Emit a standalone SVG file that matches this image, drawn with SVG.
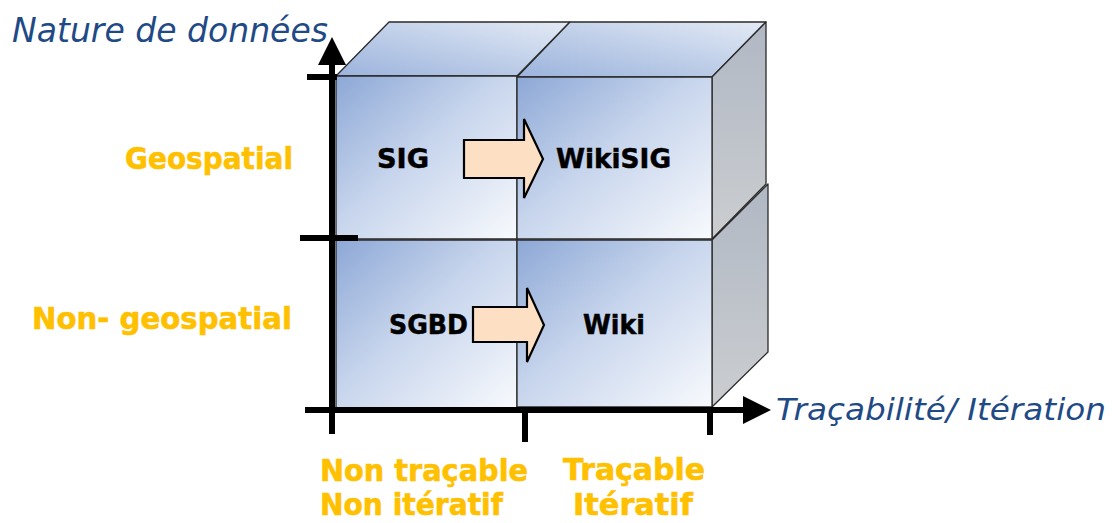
<svg xmlns="http://www.w3.org/2000/svg" width="1115" height="523" viewBox="0 0 1115 523">
  <style>
    .edge { stroke: #2a2a2a; stroke-width: 1.3; stroke-linejoin: round; }
    .front { fill: url(#gFront); }
    .top { fill: url(#gTop); }
    .side { fill: url(#gSide); }
    .cell { font-family: "DejaVu Sans", Verdana, sans-serif; font-weight: bold; font-size: 27px; fill: #000; stroke: #000; stroke-width: 0.5; }
    .cat { font-family: "DejaVu Sans", Verdana, sans-serif; font-weight: bold; font-size: 31px; fill: #FFC000; stroke: #FFC000; stroke-width: 0.6; }
    .axis-title { font-family: "DejaVu Sans", Verdana, sans-serif; font-style: italic; font-size: 34px; fill: #1F4A86; }
    .axis { stroke: #000; stroke-width: 6; fill: none; }
    .block { fill: #FDDFC3; stroke: #000; stroke-width: 2.2; stroke-linejoin: miter; }
  </style>
  <defs>
    <linearGradient id="gFront" x1="0" y1="0" x2="1" y2="1">
      <stop offset="0" stop-color="#8DA8D6"/>
      <stop offset="0.45" stop-color="#C6D4EC"/>
      <stop offset="1" stop-color="#F8FAFD"/>
    </linearGradient>
    <linearGradient id="gTop" x1="0" y1="1" x2="1" y2="0">
      <stop offset="0" stop-color="#9BB3DC"/>
      <stop offset="1" stop-color="#E3EAF5"/>
    </linearGradient>
    <linearGradient id="gSide" x1="0" y1="0" x2="0" y2="1">
      <stop offset="0" stop-color="#B0B8C4"/>
      <stop offset="1" stop-color="#CBCDD0"/>
    </linearGradient>
  </defs>

  <!-- bottom row of cubes -->
  <g id="cell-sgbd">
    <rect class="front edge" x="336" y="240" width="181" height="168"/>
    <text class="cell" x="389" y="334" textLength="79" lengthAdjust="spacingAndGlyphs">SGBD</text>
  </g>
  <g id="cell-wiki">
    <polygon class="side edge" points="712,240 768,184 768,352 712,407"/>
    <rect class="front edge" x="517" y="240" width="195" height="167"/>
    <text class="cell" x="583" y="334" textLength="62" lengthAdjust="spacingAndGlyphs">Wiki</text>
  </g>

  <!-- top row of cubes -->
  <g id="cell-sig">
    <polygon class="top edge" points="336,76 389,22 570,22 517,76"/>
    <rect class="front edge" x="336" y="76" width="181" height="163"/>
    <text class="cell" x="377" y="168" textLength="52" lengthAdjust="spacingAndGlyphs">SIG</text>
  </g>
  <g id="cell-wikisig">
    <polygon class="top edge" points="517,77 570,22 766,22 712,77"/>
    <polygon class="side edge" points="712,77 766,22 766,184 712,239"/>
    <rect class="front edge" x="517" y="77" width="195" height="162"/>
    <text class="cell" x="556" y="168" textLength="115" lengthAdjust="spacingAndGlyphs">WikiSIG</text>
  </g>

  <!-- transitions between cells -->
  <g id="connectors">
    <polygon class="block" points="464,140 524,140 524,119 543,159 524,198 524,178 464,178"/>
    <polygon class="block" points="473,307 527,307 527,288 544,325 527,362 527,342 473,342"/>
  </g>

  <!-- axes with ticks -->
  <g id="axes">
    <line class="axis" x1="332" y1="62" x2="332" y2="434"/>
    <polygon points="318,65 332,37 346,65" fill="#000"/>
    <line class="axis" x1="305" y1="410" x2="746" y2="410"/>
    <polygon points="743,396 771,410 743,424" fill="#000"/>
    <line class="axis" x1="307" y1="77" x2="337" y2="77"/>
    <line class="axis" x1="300" y1="238" x2="358" y2="238"/>
    <line class="axis" x1="525" y1="410" x2="525" y2="442"/>
    <line class="axis" x1="710" y1="410" x2="710" y2="435"/>
  </g>

  <!-- axis titles -->
  <g id="axis-titles">
    <text class="axis-title" x="12" y="42" textLength="316" lengthAdjust="spacingAndGlyphs">Nature de données</text>
    <text class="axis-title" x="776" y="420" style="font-size:31px" textLength="330" lengthAdjust="spacingAndGlyphs">Traçabilité/ Itération</text>
  </g>

  <!-- category labels -->
  <g id="row-labels">
    <text class="cat" x="125" y="169" textLength="168" lengthAdjust="spacingAndGlyphs">Geospatial</text>
    <text class="cat" x="32" y="329" textLength="260" lengthAdjust="spacingAndGlyphs">Non- geospatial</text>
  </g>
  <g id="column-labels">
    <text class="cat" x="320" y="481" textLength="208" lengthAdjust="spacingAndGlyphs">Non traçable</text>
    <text class="cat" x="320" y="515" textLength="183" lengthAdjust="spacingAndGlyphs">Non itératif</text>
    <text class="cat" x="563" y="480" textLength="142" lengthAdjust="spacingAndGlyphs">Traçable</text>
    <text class="cat" x="573" y="515" textLength="120" lengthAdjust="spacingAndGlyphs">Itératif</text>
  </g>
</svg>
